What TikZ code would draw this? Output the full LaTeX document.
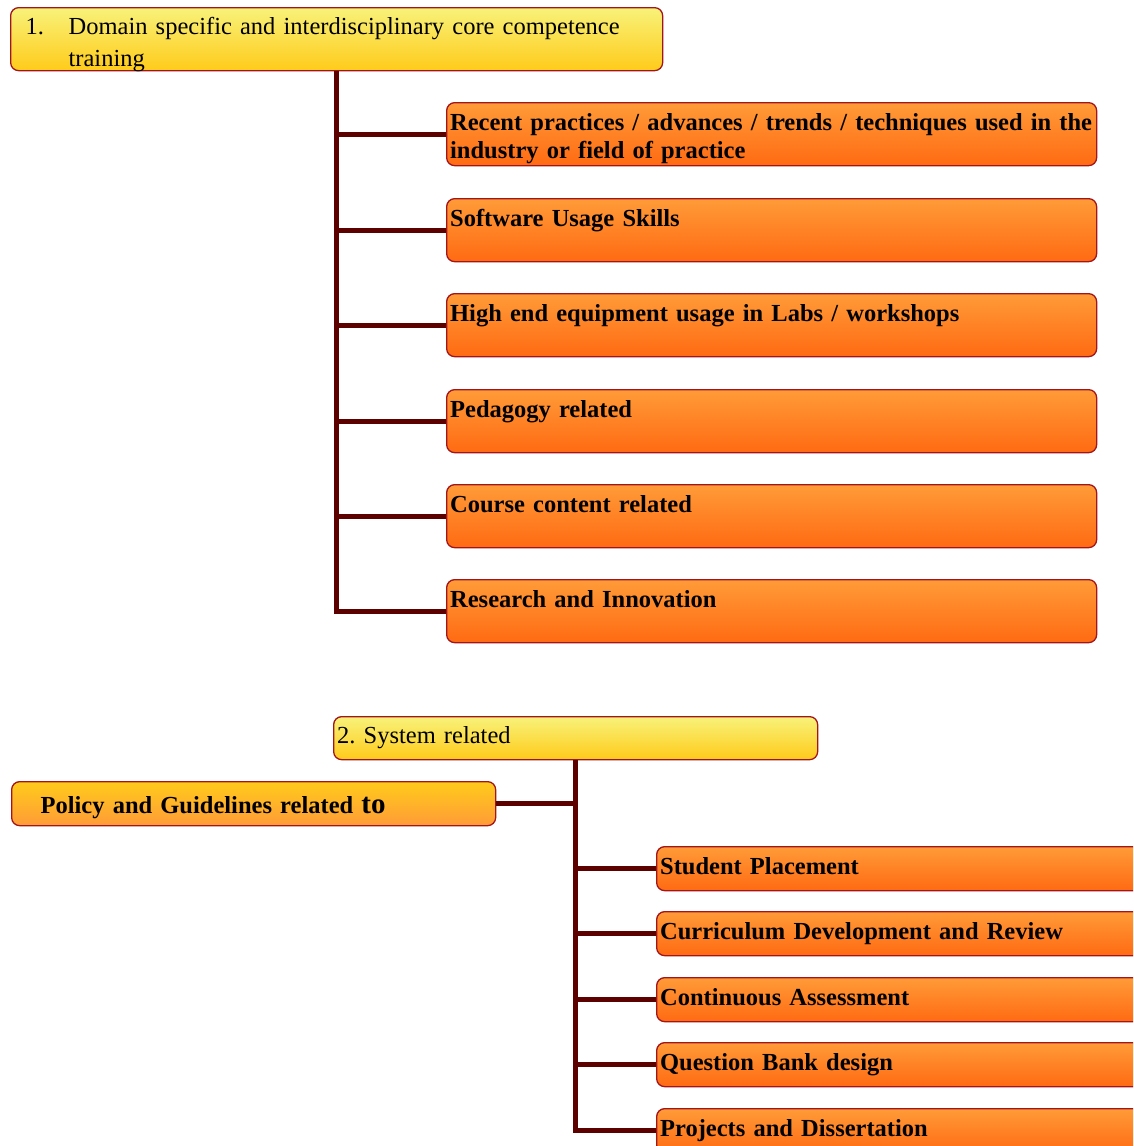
\documentclass[tikz,border=0pt]{standalone}
\usepackage{fontspec}
\setmainfont{Liberation Serif}
\frenchspacing
\usepackage{xcolor}
\definecolor{lemon}{HTML}{F8F27A}
\definecolor{gold}{HTML}{FFCB1A}
\definecolor{amber}{HTML}{FF9B38}
\definecolor{ember}{HTML}{FF6A12}
\definecolor{edge}{HTML}{A3151A}
\definecolor{stem}{HTML}{5C0000}
\usepackage{tikz}
\usetikzlibrary{calc,positioning}
\tikzset{
  card/.style={draw=edge,line width=1.3pt,rounded corners=8pt,anchor=north west,
               inner ysep=0pt,inner xsep=3.5pt,align=left,
               font=\fontsize{24.5}{28}\selectfont},
  head/.style={card,top color=lemon,bottom color=gold},
  topic/.style={card,top color=amber,bottom color=ember,font=\fontsize{24.5}{28}\selectfont\bfseries,
                text width=643pt,text height=28pt,text depth=35pt},
  item/.style={card,top color=amber,bottom color=ember,font=\fontsize{24.5}{28}\selectfont\bfseries,
               text width=483pt,text height=28pt,text depth=16pt},
  policy/.style={card,top color=gold,bottom color=amber,font=\fontsize{24.5}{28}\selectfont\bfseries,
                 inner xsep=29pt,text width=426pt,text height=32pt,text depth=12pt},
  link/.style={draw=stem,line width=5pt},
}

\begin{document}
\begin{tikzpicture}[x=1pt,y=-1pt]
  \useasboundingbox (0,0) rectangle (1133,1146);
  \clip (0,0) rectangle (1133,1146);
  \node[head,inner xsep=15pt,text width=622pt,text height=27pt,text depth=36pt,
        font=\fontsize{24.5}{32}\selectfont] (core) at (10,7)
        {\makebox[43pt][l]{1.}Domain specific and interdisciplinary core competence\\\hspace*{43pt}training};
  \node[topic] (r1) at (446,102) {\mbox{Recent practices / advances / trends / techniques used in the}\\industry or field of practice};
  \node[topic] (r2) at (446,198) {Software Usage Skills};
  \node[topic] (r3) at (446,293) {High end equipment usage in Labs / workshops};
  \node[topic] (r4) at (446,389) {Pedagogy related};
  \node[topic] (r5) at (446,484) {Course content related};
  \node[topic] (r6) at (446,579) {Research and Innovation};
  \draw[link] (core.south) |- (r6.west);
  \draw[link] (core.south |- r1.west) -- (r1.west);
  \draw[link] (core.south |- r2.west) -- (r2.west);
  \draw[link] (core.south |- r3.west) -- (r3.west);
  \draw[link] (core.south |- r4.west) -- (r4.west);
  \draw[link] (core.south |- r5.west) -- (r5.west);

  \node[head,text width=477pt,text height=27pt,text depth=16pt] (sys) at (333,716) {2. System related};
  \node[policy] (pol) at (11,781) {Policy and Guidelines related {\fontsize{29}{29}\selectfont to}};
  \node[item] (s1) at (656,846) {Student Placement};
  \node[item] (s2) at (656,911) {Curriculum Development and Review};
  \node[item] (s3) at (656,977) {Continuous Assessment};
  \node[item] (s4) at (656,1042) {Question Bank design};
  \node[item] (s5) at (656,1108) {Projects and Dissertation};
  \draw[link] (sys.south) |- (s5.west);
  \draw[link] (pol.east) -- (sys.south |- pol.east);
  \draw[link] (sys.south |- s1.west) -- (s1.west);
  \draw[link] (sys.south |- s2.west) -- (s2.west);
  \draw[link] (sys.south |- s3.west) -- (s3.west);
  \draw[link] (sys.south |- s4.west) -- (s4.west);
\end{tikzpicture}
\end{document}
